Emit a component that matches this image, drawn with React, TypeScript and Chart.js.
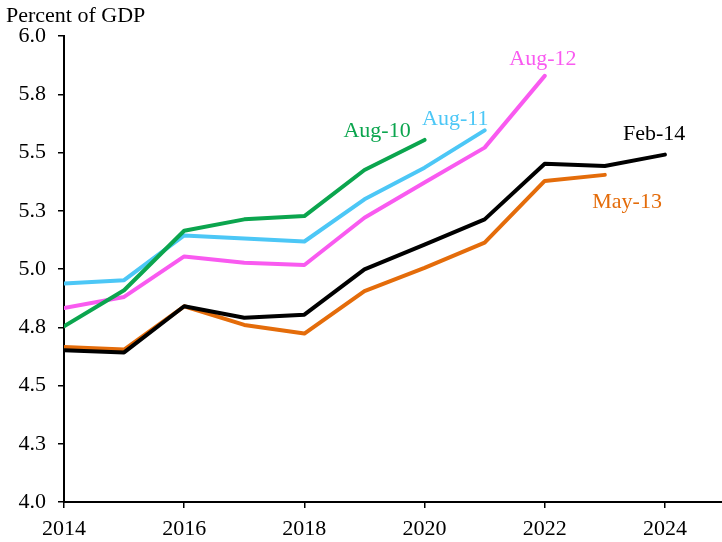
import React, { useEffect, useRef } from "react";
import { Chart, registerables } from "chart.js";

Chart.register(...registerables);

const years = [2014, 2015, 2016, 2017, 2018, 2019, 2020, 2021, 2022, 2023, 2024];
const feb14 = [4.651, 4.642, 4.84, 4.791, 4.804, 4.998, 5.105, 5.213, 5.452, 5.442, 5.491];
const may13 = [4.665, 4.654, 4.84, 4.76, 4.723, 4.905, 5.005, 5.113, 5.378, 5.404];
const aug12 = [4.833, 4.88, 5.054, 5.027, 5.017, 5.22, 5.371, 5.521, 5.829];
const aug11 = [4.938, 4.952, 5.144, 5.131, 5.118, 5.299, 5.435, 5.595];
const aug10 = [4.754, 4.909, 5.164, 5.213, 5.227, 5.425, 5.554];

const seriesNames = ["Feb-14", "Aug-10", "Aug-11", "Aug-12", "May-13"];
const seriesColors = ["#000000", "#0BA54E", "#4CC7F6", "#F95AF0", "#E46C0A"];
const seriesValues = [feb14, aug10, aug11, aug12, may13];

// label anchors in data space (year, value) – baseline-centered
const labelYears = [2023.82, 2019.21, 2020.51, 2021.97, 2023.37];
const labelValues = [5.554, 5.566, 5.617, 5.875, 5.263];

const yTicks = [4.0, 4.25, 4.5, 4.75, 5.0, 5.25, 5.5, 5.75, 6.0];
const xTicks = [2014, 2016, 2018, 2020, 2022, 2024];

const FONT = "'Liberation Serif', 'Times New Roman', serif";
const FS = 22;

export default function App() {
  const ref = useRef<HTMLCanvasElement | null>(null);

  useEffect(() => {
    if (!ref.current) return;
    const textPlugin = {
      id: "texts",
      afterDatasetsDraw(chart: any) {
        const ctx = chart.ctx;
        const xs = chart.scales.x;
        const ys = chart.scales.y;
        ctx.save();
        ctx.font = `${FS}px ${FONT}`;
        ctx.textBaseline = "alphabetic";
        ctx.textAlign = "left";
        ctx.fillStyle = "#000";
        ctx.fillText("Percent of GDP", 6, 22);
        ctx.textAlign = "center";
        seriesNames.forEach((n, i) => {
          ctx.fillStyle = seriesColors[i];
          ctx.fillText(n, xs.getPixelForValue(labelYears[i]), ys.getPixelForValue(labelValues[i]));
        });
        ctx.restore();
      },
    };

    const chart = new Chart(ref.current, {
      type: "line",
      data: {
        datasets: seriesValues.map((vals, i) => ({
          label: seriesNames[i],
          data: vals.map((v, j) => ({ x: years[j], y: v })),
          borderColor: seriesColors[i],
          backgroundColor: seriesColors[i],
          borderWidth: 4,
          pointRadius: 0,
          borderCapStyle: "round" as const,
          borderJoinStyle: "round" as const,
          tension: 0,
          fill: false,
        })),
      },
      options: {
        animation: false,
        responsive: false,
        maintainAspectRatio: false,
        layout: { padding: { left: 0, right: 0, top: 36, bottom: 0 } },
        plugins: {
          legend: { display: false },
          tooltip: { enabled: false },
          title: { display: false },
        },
        scales: {
          x: {
            type: "linear",
            min: 2014,
            max: 2025,
            afterBuildTicks: (s: any) => {
              s.ticks = xTicks.map((v) => ({ value: v }));
            },
            afterFit: (s: any) => {
              s.height = 40;
            },
            ticks: {
              font: { family: FONT, size: FS },
              color: "#000",
              padding: 8,
              maxRotation: 0,
              autoSkip: false,
              callback: (v: any) => String(v),
            },
            grid: {
              drawOnChartArea: false,
              drawTicks: true,
              tickLength: 6,
              color: "#000",
              lineWidth: 1.5,
            },
            border: { display: true, color: "#000", width: 2 },
          },
          y: {
            type: "linear",
            min: 4,
            max: 6,
            afterBuildTicks: (s: any) => {
              s.ticks = yTicks.map((v) => ({ value: v }));
            },
            afterFit: (s: any) => {
              s.width = 64;
            },
            ticks: {
              font: { family: FONT, size: FS },
              color: "#000",
              padding: 12,
              autoSkip: false,
              callback: (v: any) => Number(v).toFixed(1),
            },
            grid: {
              drawOnChartArea: false,
              drawTicks: true,
              tickLength: 6,
              color: "#000",
              lineWidth: 1.5,
            },
            border: { display: true, color: "#000", width: 2 },
          },
        },
      },
      plugins: [textPlugin],
    });
    return () => chart.destroy();
  }, []);

  return (
    <div style={{ position: "fixed", left: 0, top: 0, width: 722, height: 542, overflow: "hidden", background: "#fff" }}>
      <canvas ref={ref} width={725} height={542} style={{ display: "block", width: 725, height: 542 }} />
    </div>
  );
}
